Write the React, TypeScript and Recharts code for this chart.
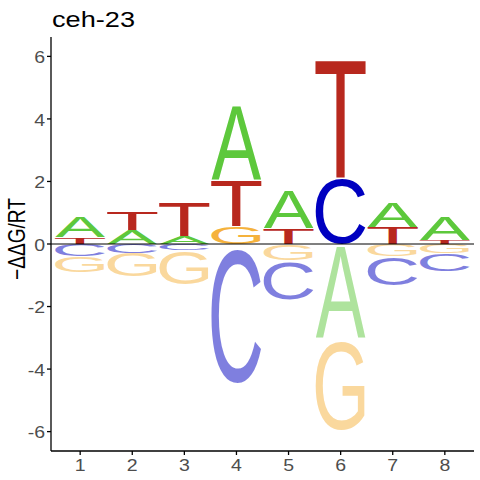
import React from 'react';
import { Bar, ComposedChart, ReferenceLine, XAxis, YAxis } from 'recharts';

const positions = [1, 2, 3, 4, 5, 6, 7, 8];
const yTicks = [-6, -4, -2, 0, 2, 4, 6];

// letters above zero, bottom to top
const upLetters = [['T', 'A'], ['A', 'T'], ['A', 'T'], ['G', 'T', 'A'], ['T', 'A'], ['C', 'T'], ['T', 'A'], ['T', 'A']];
const upValues = [[0.21, 0.69], [0.45, 0.61], [0.26, 1.09], [0.58, 1.49, 2.41], [0.52, 1.24], [2.15, 3.87], [0.55, 0.8], [0.13, 0.74]];

// letters below zero, from zero downward
const downLetters = [['C', 'G'], ['C', 'G'], ['C', 'G'], ['C'], ['G', 'C'], ['A', 'G'], ['G', 'C'], ['G', 'C']];
const downValues = [[0.4, 0.5], [0.28, 0.77], [0.2, 1.1], [4.45], [0.53, 1.24], [3.02, 2.95], [0.4, 0.93], [0.3, 0.58]];

const letterColors: Record<string, string> = {
  A: '#5DC83C',
  C: '#0000C0',
  G: '#F5B23C',
  T: '#B8281E',
};

// glyph boxes in font units (Liberation Sans, 1000 upm)
const glyphBox: Record<string, [number, number, number, number]> = {
  A: [-2, 669, 0, 716],
  C: [49, 688, -12, 728],
  G: [48, 720, -12, 728],
  T: [23, 588, 0, 716],
};

const FONT = '"Liberation Sans", Arial, sans-serif';
const LETTER_W = 50;

const rows = positions.map((pos, i) => {
  const row: Record<string, number | string> = { pos };
  for (let k = 0; k < 3; k++) {
    row[`u${k}`] = upValues[i][k] ?? 0;
    row[`u${k}L`] = upLetters[i][k] ?? '';
  }
  for (let k = 0; k < 2; k++) {
    row[`d${k}`] = -(downValues[i][k] ?? 0);
    row[`d${k}L`] = downLetters[i][k] ?? '';
  }
  return row;
});

const makeLetter = (slot: string, faded: boolean) => (props: any) => {
  const { x, y, width, height, payload } = props;
  const letter = payload?.[`${slot}L`];
  const h = Math.abs(height);
  if (!letter || h < 0.5) return <g />;
  const top = Math.min(y, y + height);
  const bottom = top + h;
  const cx = x + width / 2;
  const [x0, x1, y0, y1] = glyphBox[letter];
  const sx = LETTER_W / (x1 - x0);
  const sy = h / (y1 - y0);
  return (
    <text
      x={0}
      y={0}
      fontSize={1000}
      fontFamily={FONT}
      fill={letterColors[letter]}
      fillOpacity={faded ? 0.5 : 1}
      transform={`translate(${cx - LETTER_W / 2},${bottom}) scale(${sx},${sy}) translate(${-x0},${y0})`}
    >
      {letter}
    </text>
  );
};

const XTick = (props: any) => {
  const { x, y, payload } = props;
  return (
    <text
      transform={`translate(${x},${y + 14}) scale(1.22,1)`}
      textAnchor="middle"
      fontSize={16}
      fontFamily={FONT}
      fill="#4D4D4D"
    >
      {payload.value}
    </text>
  );
};

const YTick = (props: any) => {
  const { x, y, payload } = props;
  return (
    <text
      transform={`translate(${x},${y + 1}) scale(1.22,1)`}
      textAnchor="end"
      dy="0.36em"
      fontSize={16}
      fontFamily={FONT}
      fill="#4D4D4D"
    >
      {payload.value}
    </text>
  );
};

export default function App() {
  const axisLine = { stroke: '#000', strokeWidth: 1.3 };
  return (
    <div style={{ position: 'absolute', left: 0, top: 0, width: 480, height: 480, background: '#fff' }}>
      <ComposedChart
        width={480}
        height={480}
        data={rows}
        stackOffset="sign"
        margin={{ top: 37, right: 6, bottom: 0, left: 0 }}
      >
        <XAxis
          dataKey="pos"
          type="number"
          domain={[0.44, 8.56]}
          ticks={positions}
          interval={0}
          height={29}
          axisLine={axisLine}
          tickLine={axisLine}
          tickSize={4}
          tickMargin={2}
          tick={<XTick />}
          allowDataOverflow
        />
        <YAxis
          type="number"
          domain={[-6.62, 6.62]}
          ticks={yTicks}
          interval={0}
          width={51}
          axisLine={axisLine}
          tickLine={axisLine}
          tickSize={4}
          tickMargin={2}
          tick={<YTick />}
          allowDataOverflow
        />
        {['u0', 'u1', 'u2'].map((k) => (
          <Bar key={k} dataKey={k} stackId="s" barSize={LETTER_W} shape={makeLetter(k, false)} isAnimationActive={false} />
        ))}
        {['d0', 'd1'].map((k) => (
          <Bar key={k} dataKey={k} stackId="s" barSize={LETTER_W} shape={makeLetter(k, true)} isAnimationActive={false} />
        ))}
        <ReferenceLine y={0} stroke="#000" strokeWidth={1} />
      </ComposedChart>
      <svg width={480} height={480} style={{ position: 'absolute', left: 0, top: 0, pointerEvents: 'none' }}>
        <text x={52} y={26.5} fontSize={22} fontFamily={FONT} fill="#000" textLength={83} lengthAdjust="spacingAndGlyphs">
          ceh-23
        </text>
        <text
          transform="translate(25,239) rotate(-90)"
          textAnchor="middle"
          fontSize={24}
          fontFamily={FONT}
          fill="#000"
          textLength={82}
          lengthAdjust="spacingAndGlyphs"
        >
          −ΔΔG/RT
        </text>
      </svg>
    </div>
  );
}
